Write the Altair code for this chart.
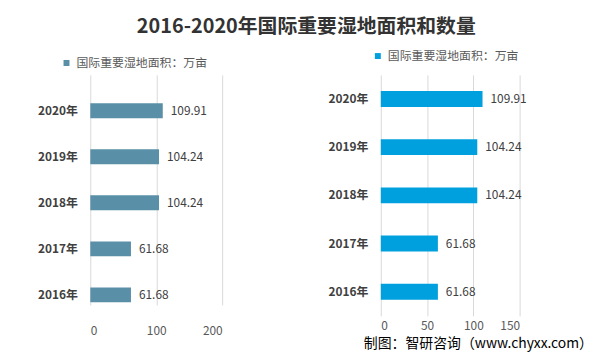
import altair as alt
import pandas as pd

years = ["2016年", "2017年", "2018年", "2019年", "2020年"]
area = [61.68, 61.68, 104.24, 104.24, 109.91]
series_name = "国际重要湿地面积：万亩"
chart_title = "2016-2020年国际重要湿地面积和数量"
footer_text = "制图：智研咨询（www.chyxx.com）"
left_ticks = [0, 100, 200]
right_ticks = [0, 50, 100, 150]

FONT = "Noto Sans CJK SC"

df = pd.DataFrame({"year": years, "value": area, "series": [series_name] * len(years)})
foot_df = pd.DataFrame({"t": [footer_text]})


def panel(color, xmax, ticks, width, height, yrange, bar_size, lx, ly, xpad, foot=False):
    base = alt.Chart(df)
    y = alt.Y(
        "year:N",
        sort=years[::-1],
        title=None,
        scale=alt.Scale(paddingInner=0, paddingOuter=0, range=yrange),
        axis=alt.Axis(
            labelFont=FONT, labelFontSize=12, labelFontWeight="bold",
            labelColor="#404040", ticks=False, domain=False, labelPadding=13, grid=False,
        ),
    )
    x = alt.X(
        "value:Q",
        title=None,
        scale=alt.Scale(domain=[0, xmax], nice=False),
        axis=alt.Axis(
            values=ticks, grid=True, gridColor="#d9d9d9", domain=False, ticks=False,
            labelFont=FONT, labelFontSize=12, labelColor="#595959", labelPadding=xpad,
        ),
    )
    bars = base.mark_bar(size=bar_size, color=color).encode(
        y=y, x=x,
        color=alt.Color(
            "series:N",
            scale=alt.Scale(range=[color]),
            legend=alt.Legend(
                orient="none", legendX=lx, legendY=ly, title=None,
                symbolType="square", symbolSize=36, symbolStrokeWidth=0,
                labelFont=FONT, labelFontSize=12, labelColor="#595959", labelOffset=4,
            ),
        ),
    )
    labels = base.mark_text(
        align="left", baseline="middle", dx=8, font=FONT, fontSize=12, color="#404040"
    ).encode(y=y, x=x, text=alt.Text("value:Q", format=".2f"))
    layers = [bars, labels]
    if foot:
        layers.append(
            alt.Chart(foot_df).mark_text(
                align="right", baseline="bottom", font=FONT, fontSize=14, color="#000000"
            ).encode(text="t:N", x=alt.value(214), y=alt.value(278))
        )
    return alt.layer(*layers).properties(width=width, height=height)


left = panel("#5A8FA8", 200, left_ticks, 133, 245, [13, 245], 15, -30, -18, 8)
right = panel("#00A0DE", 150, right_ticks, 140, 243, [0, 243], 16, -9, -25, 5, foot=True)

chart = (
    alt.hconcat(left, right, spacing=106)
    .resolve_scale(color="independent", x="independent", y="independent")
    .properties(
        title=alt.TitleParams(
            chart_title, font=FONT, fontSize=20, fontWeight="bold", color="#333333",
            anchor="middle", offset=13, dx=-9,
        ),
        padding={"left": 29, "top": 8, "right": 0, "bottom": 0},
        background="white",
    )
    .configure_view(stroke=None)
)

chart.save("out.html", embed_options={"renderer": "svg", "actions": False})
